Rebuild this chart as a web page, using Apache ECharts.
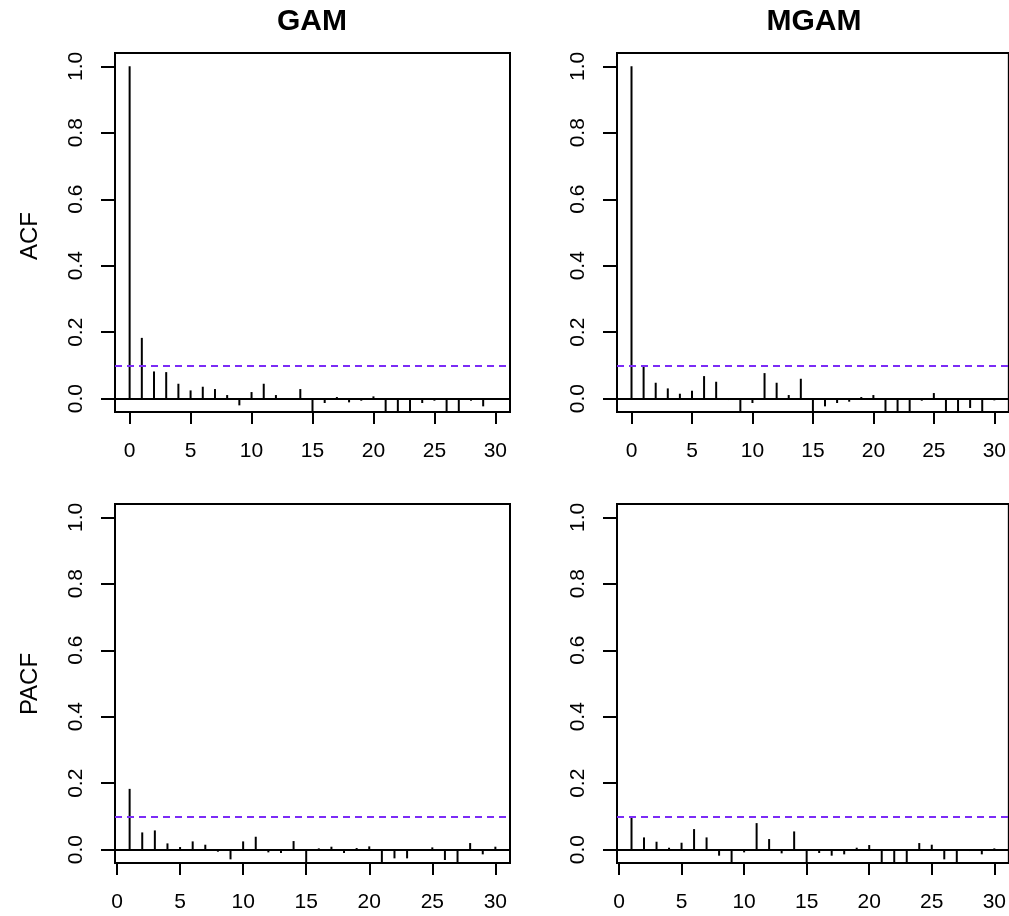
<!DOCTYPE html>
<html><head><meta charset="utf-8">
<script src="https://cdn.jsdelivr.net/npm/echarts@6/dist/echarts.min.js"></script>
<style>html,body{margin:0;padding:0;background:#fff}#c{width:1009px;height:916px}</style>
</head><body><div id="c"></div>
<script>
// ---- data ----
const acfLags = [0,1,2,3,4,5,6,7,8,9,10,11,12,13,14,15,16,17,18,19,20,21,22,23,24,25,26,27,28,29,30];
const pacfLags = [1,2,3,4,5,6,7,8,9,10,11,12,13,14,15,16,17,18,19,20,21,22,23,24,25,26,27,28,29,30];
const gamAcf = [1.0,0.183,0.082,0.080,0.045,0.025,0.036,0.029,0.011,-0.020,0.020,0.045,0.011,-0.003,0.029,-0.05,-0.013,0.005,-0.011,-0.006,0.007,-0.05,-0.05,-0.05,-0.013,-0.006,-0.05,-0.05,-0.006,-0.023,0.002];
const mgamAcf = [1.0,0.099,0.048,0.031,0.015,0.024,0.068,0.051,-0.004,-0.05,-0.013,0.077,0.048,0.011,0.060,-0.05,-0.023,-0.013,-0.009,0.005,0.011,-0.05,-0.05,-0.05,-0.006,0.017,-0.05,-0.05,-0.028,-0.05,-0.005];
const gamPacf = [0.183,0.052,0.058,0.019,0.008,0.025,0.015,-0.006,-0.029,0.025,0.039,-0.008,-0.010,0.026,-0.05,0.004,0.009,-0.010,0.005,0.010,-0.05,-0.026,-0.026,0.002,0.007,-0.031,-0.05,0.020,-0.014,0.009];
const mgamPacf = [0.099,0.037,0.024,0.006,0.021,0.062,0.037,-0.018,-0.05,-0.008,0.080,0.032,-0.011,0.055,-0.05,-0.010,-0.018,-0.014,0.006,0.014,-0.05,-0.05,-0.05,0.020,0.015,-0.029,-0.05,-0.004,-0.014,0.004];
const ciBound = 0.101;
const xTicks = [0,5,10,15,20,25,30];
const yTicks = [0,0.2,0.4,0.6,0.8,1.0];
const colTitles = ['GAM','MGAM'];
const rowTitles = ['ACF','PACF'];

// ---- chart ----
const FONT = '"Liberation Sans", Arial, Helvetica, sans-serif';
const chart = echarts.init(document.getElementById('c'));
const panels = [
  {left:115, top:53, lags:acfLags, vals:gamAcf, xmin:-1.2, xmax:31.2},
  {left:617, top:53, lags:acfLags, vals:mgamAcf, xmin:-1.2, xmax:31.2},
  {left:115, top:504, lags:pacfLags, vals:gamPacf, xmin:-0.16, xmax:31.16},
  {left:617, top:504, lags:pacfLags, vals:mgamPacf, xmin:-0.16, xmax:31.16}
];
const W = 395, H = 359;
const grids = [], xAxes = [], yAxes = [], series = [];
panels.forEach((p, i) => {
  grids.push({left:p.left, top:p.top, width:W, height:H, show:true, borderColor:'#000', borderWidth:2, backgroundColor:'transparent', containLabel:false});
  xAxes.push({type:'value', gridIndex:i, min:p.xmin, max:p.xmax, position:'bottom',
    axisLine:{show:false, onZero:false}, splitLine:{show:false},
    axisTick:{show:true, inside:false, length:12, customValues:xTicks, lineStyle:{color:'#000', width:2}},
    axisLabel:{show:true, inside:false, customValues:xTicks, margin:29, color:'#000', fontSize:21, fontFamily:FONT}});
  yAxes.push({type:'value', gridIndex:i, min:-0.04, max:1.04, position:'left',
    axisLine:{show:false, onZero:false}, splitLine:{show:false},
    axisTick:{show:true, inside:false, length:14, customValues:yTicks, lineStyle:{color:'#000', width:2}},
    axisLabel:{show:true, inside:false, customValues:yTicks, rotate:90, margin:28, color:'#000', fontSize:21, fontFamily:FONT,
      formatter:v => Number(v).toFixed(1)}});
  series.push({type:'bar', xAxisIndex:i, yAxisIndex:i, barWidth:2, clip:true,
    itemStyle:{color:'#000'}, silent:true,
    data:p.lags.map((l, k) => [l, p.vals[k]]),
    markLine:{silent:true, symbol:['none','none'], label:{show:false},
      data:[
        {yAxis:0, lineStyle:{type:'solid', color:'#000', width:2}},
        {yAxis:ciBound, lineStyle:{type:[7,5], color:'#7b2cf6', width:2}}
      ]}
  });
});
const graphics = [];
colTitles.forEach((t, i) => {
  graphics.push({type:'text', x:[312, 814][i], y:22, silent:true,
    style:{text:t, align:'center', verticalAlign:'middle', fill:'#000', font:'bold 30px ' + FONT}});
});
rowTitles.forEach((t, i) => {
  graphics.push({type:'text', x:30, y:[236, 684][i], rotation:Math.PI/2, silent:true,
    style:{text:t, align:'center', verticalAlign:'middle', fill:'#000', font:'24px ' + FONT}});
});
chart.setOption({animation:false, backgroundColor:'#fff', grid:grids, xAxis:xAxes, yAxis:yAxes, series:series, graphic:graphics});
</script></body></html>
